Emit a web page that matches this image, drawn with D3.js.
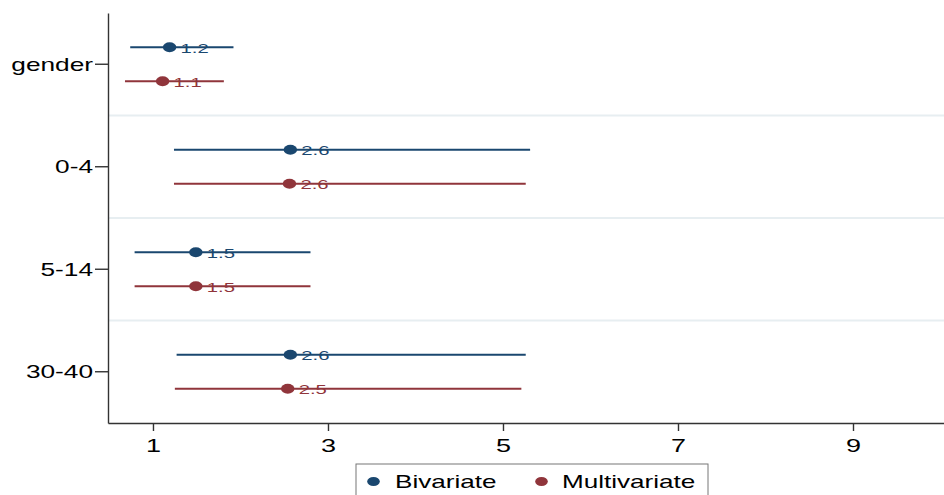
<!DOCTYPE html>
<html>
<head>
<meta charset="utf-8">
<script src="https://cdn.jsdelivr.net/npm/d3@7"></script>
<style>
  html, body { margin: 0; padding: 0; background: #fff; }
  svg { display: block; }
  text { font-family: "Liberation Sans", Arial, Helvetica, sans-serif; }
</style>
</head>
<body>
<svg id="chart" width="944" height="495"></svg>
<script>
// ---- data ----
const categories = ["gender", "0-4", "5-14", "30-40"];
const seriesNames = ["Bivariate", "Multivariate"];
const bivariateEst   = [1.19, 2.57, 1.49, 2.57];
const bivariateLow   = [0.74, 1.24, 0.79, 1.27];
const bivariateHigh  = [1.92, 5.31, 2.80, 5.26];
const multivariateEst  = [1.11, 2.56, 1.49, 2.54];
const multivariateLow  = [0.68, 1.24, 0.79, 1.25];
const multivariateHigh = [1.81, 5.26, 2.80, 5.21];
const xTickValues = [1, 3, 5, 7, 9];
const xDomain = [0.486, 10.04];

const colors = { "Bivariate": "#1a476f", "Multivariate": "#90353b" };
const SX = 1.5; // horizontal stretch of text & markers

const svg = d3.select("#chart");
const plot = { left: 108, right: 944, top: 13, bottom: 423 };

const x = d3.scaleLinear().domain(xDomain).range([plot.left, plot.right]);
const y = d3.scaleBand().domain(categories).range([plot.top, plot.bottom]).padding(0);
const sub = d3.scalePoint().domain(seriesNames).range([-17, 17]);

const rows = [];
categories.forEach((c, i) => {
  rows.push({ cat: c, s: "Bivariate", est: bivariateEst[i], lo: bivariateLow[i], hi: bivariateHigh[i] });
  rows.push({ cat: c, s: "Multivariate", est: multivariateEst[i], lo: multivariateLow[i], hi: multivariateHigh[i] });
});
const cy = d => y(d.cat) + y.bandwidth() / 2 + sub(d.s);

// separators between categories
svg.append("g").selectAll("line")
  .data(categories.slice(1))
  .join("line")
  .attr("x1", plot.left).attr("x2", plot.right)
  .attr("y1", d => y(d)).attr("y2", d => y(d))
  .attr("stroke", "#e7eef1").attr("stroke-width", 2);

// error bars
svg.append("g").selectAll("line")
  .data(rows)
  .join("line")
  .attr("x1", d => x(d.lo)).attr("x2", d => x(d.hi))
  .attr("y1", cy).attr("y2", cy)
  .attr("stroke", d => colors[d.s]).attr("stroke-width", 2);

// markers
svg.append("g").selectAll("ellipse")
  .data(rows)
  .join("ellipse")
  .attr("cx", d => x(d.est)).attr("cy", cy)
  .attr("rx", 6.7).attr("ry", 4.9)
  .attr("fill", d => colors[d.s]);

// value labels
const fmt = d3.format(".1f");
svg.append("g").selectAll("text")
  .data(rows)
  .join("text")
  .attr("transform", d => `translate(${x(d.est) + 11},${cy(d) + 5.3}) scale(${SX},1)`)
  .attr("font-size", 13.5)
  .attr("fill", d => colors[d.s])
  .text(d => fmt(d.est));

// axes
const xAxis = d3.axisBottom(x).tickValues(xTickValues).tickSize(8).tickSizeOuter(0).tickFormat(d3.format("d"));
const gx = svg.append("g").attr("transform", `translate(0,${plot.bottom})`).call(xAxis);
gx.select(".domain").attr("stroke", "#333").attr("stroke-width", 1.4);
gx.selectAll(".tick line").attr("stroke", "#333").attr("stroke-width", 1.4);
gx.selectAll(".tick text")
  .attr("font-size", 18).attr("font-family", "Liberation Sans, Arial, sans-serif")
  .attr("fill", "#000").attr("y", 29).attr("dy", 0)
  .attr("transform", `scale(${SX},1)`);

const yAxis = d3.axisLeft(y).tickSize(13).tickSizeOuter(0);
const gy = svg.append("g").attr("transform", `translate(${plot.left},0)`).call(yAxis);
gy.select(".domain").attr("stroke", "#333").attr("stroke-width", 1.4);
gy.selectAll(".tick line").attr("stroke", "#333").attr("stroke-width", 1.4);
gy.selectAll(".tick text")
  .attr("font-size", 17.5).attr("font-family", "Liberation Sans, Arial, sans-serif")
  .attr("fill", "#000").attr("x", -15 / SX).attr("dy", "0.36em")
  .attr("transform", `scale(${SX},1)`);

// legend
const lg = svg.append("g");
lg.append("rect")
  .attr("x", 356).attr("y", 464).attr("width", 352).attr("height", 40)
  .attr("fill", "#fff").attr("stroke", "#777").attr("stroke-width", 1);
const legendItems = [
  { s: "Bivariate", mx: 373.5, tx: 395 },
  { s: "Multivariate", mx: 541.5, tx: 562 }
];
legendItems.forEach(it => {
  lg.append("ellipse").attr("cx", it.mx).attr("cy", 481.5).attr("rx", 6.3).attr("ry", 4.6)
    .attr("fill", colors[it.s]);
  lg.append("text")
    .attr("transform", `translate(${it.tx},488) scale(1.45,1)`)
    .attr("font-size", 18).attr("fill", "#000")
    .text(it.s);
});
</script>
</body>
</html>
